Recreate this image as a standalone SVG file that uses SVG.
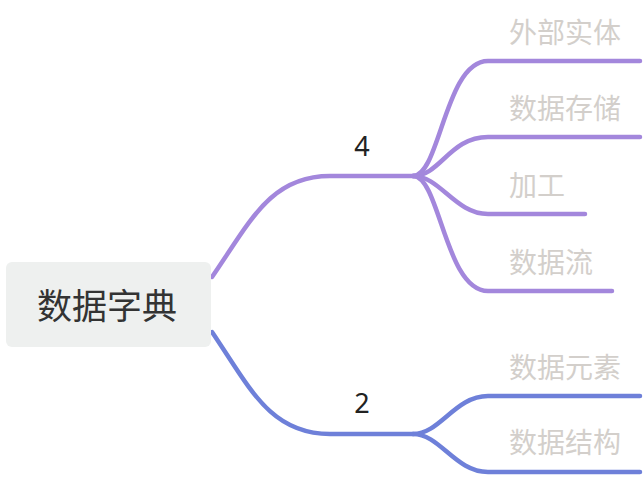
<svg xmlns="http://www.w3.org/2000/svg" width="644" height="477" viewBox="0 0 644 477">
<style>
.lp{fill:none;stroke:#a387dc;stroke-width:4.5;stroke-linecap:round}
.lb{fill:none;stroke:#6e80d9;stroke-width:4.5;stroke-linecap:round}
.lab{font-family:"Noto Sans CJK SC","Noto Sans",sans-serif;font-size:28px;fill:#d3cfcb}
.num{font-family:"Noto Sans","Noto Sans CJK SC",sans-serif;font-size:27px;fill:#222}
</style>
<rect width="644" height="477" fill="#fff"/>
<g id="connectors">
<path class="lp" d="M212 277 C250 222 270 176 330 176 L413 176"/>
<path class="lp" d="M413 176 C440 176 445 61 488 61 L640 61"/>
<path class="lp" d="M413 176 C440 176 450 137 488 137 L640 137"/>
<path class="lp" d="M413 176 C440 176 455 214 488 214 L585 214"/>
<path class="lp" d="M413 176 C440 176 445 291 488 291 L612 291"/>
<path class="lb" d="M212 332 C250 388 270 434 330 434 L413 434"/>
<path class="lb" d="M413 434 C440 434 455 396 488 396 L640 396"/>
<path class="lb" d="M413 434 C440 434 455 472 488 472 L640 472"/>
</g>
<g id="root">
<rect x="6" y="262" width="205" height="85" rx="6" fill="#eef0ef"/>
<text x="107" y="319" text-anchor="middle" font-family="'Noto Sans CJK SC','Noto Sans',sans-serif" font-size="35" fill="#333">数据字典</text>
</g>
<g id="n4"><text class="num" x="362" y="156" text-anchor="middle">4</text></g>
<g id="n2"><text class="num" x="362" y="413" text-anchor="middle">2</text></g>
<g id="waibu"><text class="lab" x="509" y="43">外部实体</text></g>
<g id="cunchu"><text class="lab" x="509" y="119">数据存储</text></g>
<g id="jiagong"><text class="lab" x="509" y="196">加工</text></g>
<g id="liu"><text class="lab" x="509" y="273">数据流</text></g>
<g id="yuansu"><text class="lab" x="509" y="378">数据元素</text></g>
<g id="jiegou"><text class="lab" x="509" y="453">数据结构</text></g>
</svg>
